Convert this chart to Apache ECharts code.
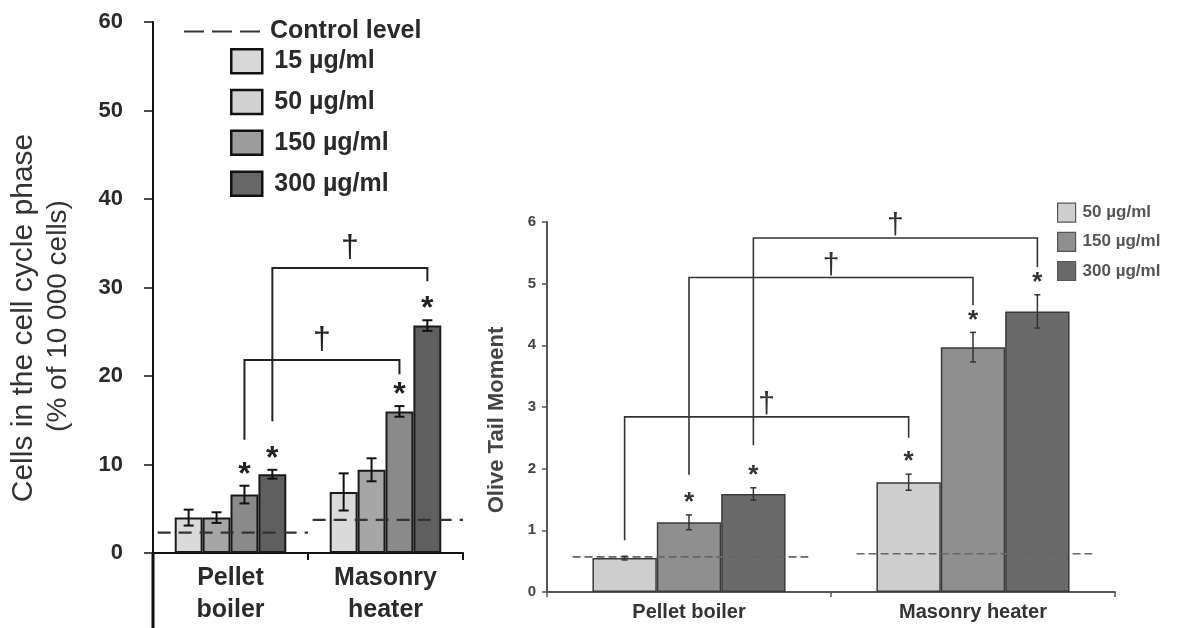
<!DOCTYPE html>
<html><head><meta charset="utf-8">
<script src="https://cdn.jsdelivr.net/npm/echarts@6/dist/echarts.min.js"></script>
<style>html,body{margin:0;padding:0;background:#fff}#c{width:1185px;height:628px}</style>
</head><body><div id="c"></div>
<script>
// ---------- DATA ----------
const categories = ['Pellet boiler', 'Masonry heater'];

// Left panel: cells in the cell cycle phase (% of 10 000 cells)
const leftSeriesNames = ['15 µg/ml', '50 µg/ml', '150 µg/ml', '300 µg/ml'];
const cc15 = [4.0, 6.9];
const cc50 = [4.0, 9.4];
const cc150 = [6.6, 16.0];
const cc300 = [8.9, 25.7];
const cc15Err = [0.9, 2.1];
const cc50Err = [0.6, 1.3];
const cc150Err = [1.0, 0.6];
const cc300Err = [0.5, 0.6];
const ccControl = [2.3, 3.75];
const ccStars = [[0, 2], [0, 3], [1, 2], [1, 3]];            // [category, series]
const ccBrackets = [                                        // [catL, serL, bottomL, catR, serR, bottomR, top]
  [0, 2, 12.8, 1, 2, 20.2, 21.8],
  [0, 3, 14.9, 1, 3, 30.7, 32.2]
];
const leftTicks = [0, 10, 20, 30, 40, 50, 60];

// Right panel: Olive Tail Moment
const rightSeriesNames = ['50 µg/ml', '150 µg/ml', '300 µg/ml'];
const otm50 = [0.55, 1.78];
const otm150 = [1.13, 3.97];
const otm300 = [1.59, 4.55];
const otm50Err = [0.03, 0.13];
const otm150Err = [0.12, 0.24];
const otm300Err = [0.10, 0.27];
const otmControl = [0.57, 0.62];
const otmStars = [[0, 1], [0, 2], [1, 0], [1, 1], [1, 2]];
const otmBrackets = [
  [0, 0, 0.84, 1, 0, 2.50, 2.84],
  [0, 1, 1.90, 1, 1, 4.65, 5.10],
  [0, 2, 2.38, 1, 2, 5.27, 5.74]
];
const rightTicks = [0, 1, 2, 3, 4, 5, 6];

// ---------- STYLE ----------
const FONT = "'Liberation Sans', Arial, sans-serif";
const leftColors = ['#dadada', '#a6a6a6', '#8a8a8a', '#5f5f5f'];
const leftLegendColors = ['#d8d8d8', '#d2d2d2', '#9c9c9c', '#676767'];
const rightColors = ['#cecece', '#8f8f8f', '#6a6a6a'];
const LGAP = 0.28, RGAP = 0.32;

const leftVals = [cc15, cc50, cc150, cc300];
const leftErrs = [cc15Err, cc50Err, cc150Err, cc300Err];
const rightVals = [otm50, otm150, otm300];
const rightErrs = [otm50Err, otm150Err, otm300Err];

function barX(api, cat, idx, n, gap) {
  const c = api.coord([cat, 0])[0];
  const band = api.size([1, 0])[0];
  const group = band * (1 - gap);
  const bw = group / n;
  return c - group / 2 + bw * (idx + 0.5);
}
function errorData(vals, errs) {
  const d = [];
  vals.forEach((arr, s) => arr.forEach((v, c) => d.push([c, s, v, errs[s][c]])));
  return d;
}
function starData(stars, vals, errs) {
  return stars.map(([c, s]) => [c, s, vals[s][c] + errs[s][c]]);
}
function errorRender(n, gap, color, lw, capHalf) {
  return function (params, api) {
    const cat = api.value(0), i = api.value(1), v = api.value(2), e = api.value(3);
    const x = barX(api, cat, i, n, gap);
    const yT = api.coord([cat, v + e])[1], yB = api.coord([cat, v - e])[1];
    const st = { stroke: color, lineWidth: lw };
    return { type: 'group', children: [
      { type: 'line', shape: { x1: x, y1: yT, x2: x, y2: yB }, style: st },
      { type: 'line', shape: { x1: x - capHalf, y1: yT, x2: x + capHalf, y2: yT }, style: st },
      { type: 'line', shape: { x1: x - capHalf, y1: yB, x2: x + capHalf, y2: yB }, style: st }
    ]};
  };
}
function starRender(n, gap, fs, off, color) {
  return function (params, api) {
    const cat = api.value(0), i = api.value(1), top = api.value(2);
    const x = barX(api, cat, i, n, gap);
    const y = api.coord([cat, top])[1];
    return { type: 'text', style: { x: x, y: y - off, text: '*', fontSize: fs, fontWeight: 'bold',
      fontFamily: FONT, fill: color, align: 'center', verticalAlign: 'top' } };
  };
}
function bracketRender(n, gap, color, lw, fs, daggerOff) {
  return function (params, api) {
    const cL = api.value(0), sL = api.value(1), bL = api.value(2);
    const cR = api.value(3), sR = api.value(4), bR = api.value(5), top = api.value(6);
    const xL = barX(api, cL, sL, n, gap), xR = barX(api, cR, sR, n, gap);
    const yT = api.coord([cL, top])[1];
    const yL = api.coord([cL, bL])[1], yR = api.coord([cR, bR])[1];
    return { type: 'group', children: [
      { type: 'polyline', shape: { points: [[xL, yL], [xL, yT], [xR, yT], [xR, yR]] },
        style: { stroke: color, lineWidth: lw, fill: null } },
      { type: 'text', style: { x: (xL + xR) / 2, y: yT - daggerOff, text: '†', fontSize: fs,
        fontFamily: FONT, fill: color, align: 'center', verticalAlign: 'bottom' } }
    ]};
  };
}
function controlRender(l, r, color, lw, dash) {
  return function (params, api) {
    const cat = api.value(0), v = api.value(1);
    const p = api.coord([cat, v]);
    const band = api.size([1, 0])[0];
    return { type: 'line', shape: { x1: p[0] + band * l, y1: p[1], x2: p[0] + band * r, y2: p[1] },
      style: { stroke: color, lineWidth: lw, lineDash: dash } };
  };
}

const series = [];
series.push({ type: 'line', name: 'Control level', xAxisIndex: 0, yAxisIndex: 0, data: [],
  symbol: 'none', symbolSize: 0, showSymbol: false,
  itemStyle: { color: '#333', opacity: 0 },
  lineStyle: { color: '#333', width: 2.5, type: [20, 8] } });
leftSeriesNames.forEach((n, i) => series.push({
  type: 'bar', name: n, xAxisIndex: 0, yAxisIndex: 0, data: leftVals[i],
  barGap: '0%', barCategoryGap: (LGAP * 100) + '%',
  itemStyle: { color: leftColors[i], borderColor: '#1a1a1a', borderWidth: 2 }
}));
series.push({ type: 'custom', name: 'ctrlL', xAxisIndex: 0, yAxisIndex: 0, z: 4,
  data: ccControl.map((v, c) => [c, v]), encode: { x: 0, y: 1 },
  renderItem: controlRender(-0.47, 0.5, '#333', 2.2, [13, 8]) });
series.push({ type: 'custom', name: 'errL', xAxisIndex: 0, yAxisIndex: 0, z: 5,
  data: errorData(leftVals, leftErrs), encode: { x: 0, y: 2 },
  renderItem: errorRender(4, LGAP, '#111', 2, 5) });
series.push({ type: 'custom', name: 'starL', xAxisIndex: 0, yAxisIndex: 0, z: 5,
  data: starData(ccStars, leftVals, leftErrs), encode: { x: 0, y: 2 },
  renderItem: starRender(4, LGAP, 32, 27, '#222') });
series.push({ type: 'custom', name: 'brL', xAxisIndex: 0, yAxisIndex: 0, z: 5,
  data: ccBrackets, encode: { x: 0, y: 6 },
  renderItem: bracketRender(4, LGAP, '#222', 2, 32, 4) });

rightSeriesNames.forEach((n, i) => series.push({
  type: 'bar', name: n, xAxisIndex: 1, yAxisIndex: 1, data: rightVals[i],
  barGap: '0%', barCategoryGap: (RGAP * 100) + '%',
  itemStyle: { color: rightColors[i], borderColor: '#3a3a3a', borderWidth: 1.5 }
}));
series.push({ type: 'custom', name: 'ctrlR', xAxisIndex: 1, yAxisIndex: 1, z: 4,
  data: otmControl.map((v, c) => [c, v]), encode: { x: 0, y: 1 },
  renderItem: controlRender(-0.41, 0.42, '#666', 1.6, [8, 4]) });
series.push({ type: 'custom', name: 'errR', xAxisIndex: 1, yAxisIndex: 1, z: 5,
  data: errorData(rightVals, rightErrs), encode: { x: 0, y: 2 },
  renderItem: errorRender(3, RGAP, '#333', 1.5, 3) });
series.push({ type: 'custom', name: 'starR', xAxisIndex: 1, yAxisIndex: 1, z: 5,
  data: starData(otmStars, rightVals, rightErrs), encode: { x: 0, y: 2 },
  renderItem: starRender(3, RGAP, 26, 25, '#333') });
series.push({ type: 'custom', name: 'brR', xAxisIndex: 1, yAxisIndex: 1, z: 5,
  data: otmBrackets, encode: { x: 0, y: 6 },
  renderItem: bracketRender(3, RGAP, '#333', 1.6, 30, -3) });

const option = {
  backgroundColor: '#fff',
  animation: false,
  grid: [
    { left: 153, top: 22, width: 310, height: 531 },
    { left: 547, top: 222, width: 568, height: 370 }
  ],
  xAxis: [
    { type: 'category', gridIndex: 0, data: categories,
      axisLine: { lineStyle: { color: '#111', width: 2 } },
      axisTick: { show: true, length: 7, lineStyle: { color: '#111', width: 2 } },
      axisLabel: { formatter: v => v.replace(' ', '\n'), fontSize: 25, fontWeight: 'bold', color: '#2a2a2a',
        lineHeight: 32, margin: 9, fontFamily: FONT } },
    { type: 'category', gridIndex: 1, data: categories,
      axisLine: { lineStyle: { color: '#555', width: 2 } },
      axisTick: { show: true, length: 5, lineStyle: { color: '#555', width: 1.5 } },
      axisLabel: { fontSize: 20, fontWeight: 'bold', color: '#333', margin: 10, fontFamily: FONT } }
  ],
  yAxis: [
    { type: 'value', gridIndex: 0, min: leftTicks[0], max: leftTicks[leftTicks.length - 1],
      interval: leftTicks[1] - leftTicks[0],
      axisLine: { show: true, lineStyle: { color: '#111', width: 2 } },
      axisTick: { show: true, length: 9, lineStyle: { color: '#111', width: 1.5 } },
      splitLine: { show: false },
      axisLabel: { fontSize: 22, fontWeight: 'bold', color: '#2a2a2a', margin: 30, fontFamily: FONT } },
    { type: 'value', gridIndex: 1, min: rightTicks[0], max: rightTicks[rightTicks.length - 1],
      interval: rightTicks[1] - rightTicks[0],
      axisLine: { show: true, lineStyle: { color: '#555', width: 2 } },
      axisTick: { show: true, length: 5, lineStyle: { color: '#555', width: 1.5 } },
      splitLine: { show: false },
      axisLabel: { fontSize: 15, fontWeight: 'bold', color: '#444', margin: 11, fontFamily: FONT } }
  ],
  legend: [
    { data: ['Control level'], left: 178, top: 14, itemWidth: 77, itemHeight: 14,
      selectedMode: false,
      textStyle: { fontSize: 25, fontWeight: 'bold', color: '#2a2a2a', fontFamily: FONT, lineHeight: 25, padding: [0, 0, 0, 4] } },
    { data: leftSeriesNames.map((n, i) => ({ name: n, icon: 'rect', itemStyle: { color: leftLegendColors[i], borderColor: '#111', borderWidth: 2.5 } })),
      orient: 'vertical', left: 225, top: 43, itemWidth: 31, itemHeight: 24, itemGap: 14.3,
      selectedMode: false,
      textStyle: { fontSize: 25, fontWeight: 'bold', color: '#2a2a2a', fontFamily: FONT, lineHeight: 24, padding: [0, 0, 0, 7] } },
    { data: rightSeriesNames.map((n, i) => ({ name: n, icon: 'rect', itemStyle: { color: rightColors[i], borderColor: '#555', borderWidth: 1.2 } })),
      orient: 'vertical', left: 1052, top: 197.5, itemWidth: 18, itemHeight: 19, itemGap: 9,
      selectedMode: false,
      textStyle: { fontSize: 17, fontWeight: 'bold', color: '#555', fontFamily: FONT, lineHeight: 19, padding: [0, 0, 0, 2] } }
  ],
  graphic: [
    { type: 'text', x: 24, y: 318, rotation: Math.PI / 2,
      style: { text: 'Cells in the cell cycle phase', fontSize: 30, fontFamily: FONT, fill: '#333',
        align: 'center', verticalAlign: 'middle' } },
    { type: 'text', x: 58, y: 316, rotation: Math.PI / 2,
      style: { text: '(% of 10 000 cells)', fontSize: 28, fontFamily: FONT, fill: '#333',
        align: 'center', verticalAlign: 'middle' } },
    { type: 'text', x: 497, y: 420, rotation: Math.PI / 2,
      style: { text: 'Olive Tail Moment', fontSize: 22, fontWeight: 'bold', fontFamily: FONT, fill: '#444',
        align: 'center', verticalAlign: 'middle' } },
    { type: 'line', shape: { x1: 153, y1: 553, x2: 153, y2: 628 }, style: { stroke: '#111', lineWidth: 3 } }
  ],
  series: series
};
const chart = echarts.init(document.getElementById('c'));
chart.setOption(option);
</script>
</body></html>
